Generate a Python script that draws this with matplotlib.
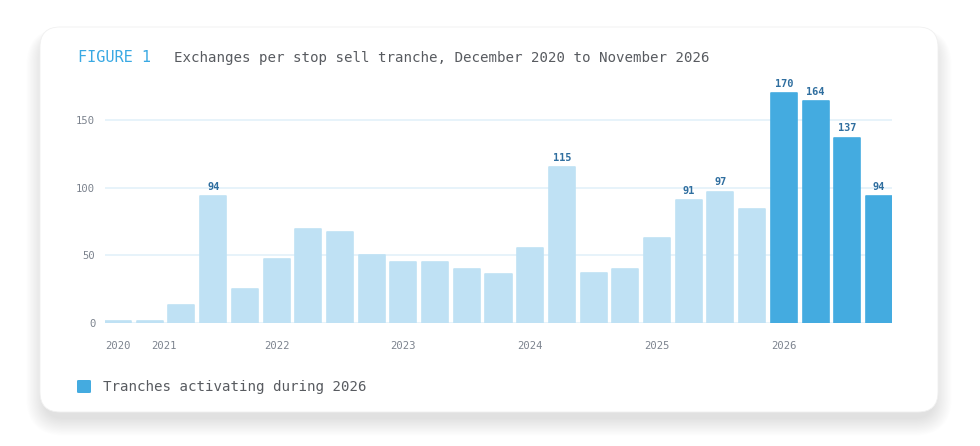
import matplotlib

matplotlib.use("Agg")
import matplotlib.pyplot as plt
from matplotlib.patches import FancyBboxPatch

# ---------------------------------------------------------------------------
# Data: exchanges per stop sell tranche (quarterly tranches)
# ---------------------------------------------------------------------------
exchanges = [1, 1, 13, 94, 25, 47, 69, 67, 50, 45, 45, 40, 36,
             55, 115, 37, 40, 63, 91, 97, 84, 170, 164, 137, 94]
active_2026 = [False] * 21 + [True] * 4
year_labels = ["2020", "2021", "2022", "2023", "2024", "2025", "2026"]
year_ticks = [0, 1.45, 5, 9, 13, 17, 21]
y_ticks = [0, 50, 100, 150]

C_LIGHT = "#bfe1f4"
C_DARK = "#44abe0"
C_LABEL = "#2f6e9f"
C_TICK = "#7c838e"
C_TEXT = "#585b60"
C_GRID = "#e3f1fa"
C_ACCENT = "#3aa9e3"

plt.rcParams.update({
    "font.family": ["DejaVu Sans Mono"],
})

W, H = 980, 446
fig = plt.figure(figsize=(W / 100, H / 100), dpi=100)
fig.patch.set_facecolor("#ffffff")

# card background + soft shadow, drawn in pixel space
bg = fig.add_axes([0, 0, 1, 1], zorder=0)
bg.set_xlim(0, W)
bg.set_ylim(H, 0)
bg.axis("off")
x0, y0, x1, y1 = 40, 27, 938, 412
for k in range(1, 31):
    sh = FancyBboxPatch((x0 + 4 - k * 0.6, y0 + 10 - k * 0.3),
                        (x1 - x0) - 8 + k * 1.2, (y1 - y0) - 4 + k * 0.9,
                        boxstyle=f"round,pad=0,rounding_size={20 + k * 0.6}",
                        fc="#000000", ec="none", alpha=0.0045)
    bg.add_patch(sh)
card = FancyBboxPatch((x0, y0), x1 - x0, y1 - y0,
                      boxstyle="round,pad=0,rounding_size=20",
                      fc="#ffffff", ec="#f0f0f0", lw=0.6)
bg.add_patch(card)

# title
fig.text(78 / W, 1 - 58 / H, "FIGURE 1", color=C_ACCENT, fontsize=11,
         va="center", ha="left")
fig.text(174 / W, 1 - 58 / H,
         "Exchanges per stop sell tranche, December 2020 to November 2026",
         color=C_TEXT, fontsize=10.2, va="center", ha="left")

# main axes: zero line at y=322.7 px, 1.351 px per unit
ax = fig.add_axes([105 / W, 1 - 322.7 / H, 787 / W, 243.2 / H], zorder=1)
ax.set_facecolor("none")
x = list(range(len(exchanges)))
colors = [C_DARK if a else C_LIGHT for a in active_2026]
ax.bar(x, exchanges, width=0.82, color=colors, edgecolor=colors, linewidth=1.2,
       joinstyle="round", zorder=2)
for i, v in enumerate(exchanges):
    if v > 90:
        ax.annotate(f"{v}", (i, v), textcoords="offset points", xytext=(0, 3),
                    ha="center", va="bottom", fontsize=7.4, color=C_LABEL,
                    fontweight="bold")

ax.set_xlim(-0.41, len(exchanges) - 1 + 0.41)
ax.set_ylim(0, 180)
ax.set_yticks(y_ticks)
ax.set_xticks(year_ticks)
ax.set_xticklabels(year_labels)
for yv in y_ticks:
    ax.axhline(yv, color=C_GRID, lw=1.2, zorder=1)
ax.tick_params(axis="both", length=0, labelsize=7.6, colors=C_TICK)
ax.tick_params(axis="x", pad=13)
ax.tick_params(axis="y", pad=7)
for sp in ax.spines.values():
    sp.set_visible(False)

# legend
fig.patches.append(FancyBboxPatch((77 / W, 1 - 393 / H), 14 / W, 13 / H,
                                  boxstyle="round,pad=0,rounding_size=0.002",
                                  transform=fig.transFigure, fc=C_DARK,
                                  ec="none", zorder=3))
fig.text(103 / W, 1 - 386.5 / H, "Tranches activating during 2026",
         color=C_TEXT, fontsize=10.2, va="center", ha="left")

fig.savefig("out.png", dpi=100)
